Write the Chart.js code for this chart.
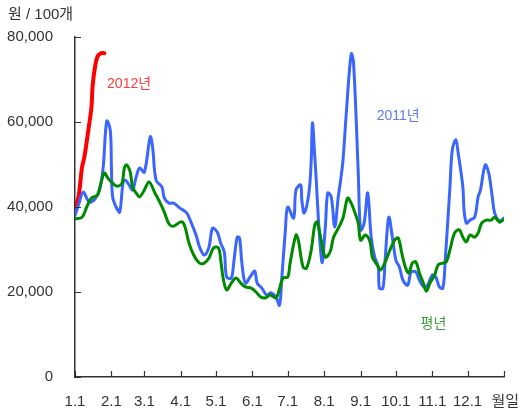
<!DOCTYPE html>
<html>
<head>
<meta charset="utf-8">
<script src="https://cdn.jsdelivr.net/npm/chart.js@4"></script>
<style>
  body { margin: 0; background: #fff; }
  #wrap { width: 520px; height: 415px; }
</style>
</head>
<body>
<div id="wrap"><canvas id="eggChart"></canvas></div>
<script>
// 일자(1월 1일 = 0) 와 가격 (원/100개)
const blueDays = [0, 3, 7, 12, 17, 21, 24, 27, 30, 31, 32, 35, 38, 41, 43, 46, 49, 52, 55, 59, 64, 66, 69, 74, 76, 80, 84, 89, 95, 99, 103, 106, 110, 114, 117, 121, 124, 127, 129, 133, 135, 138, 140, 142, 145, 150, 153, 155, 159, 163, 167, 171, 174, 176, 179, 181, 186, 188, 192, 193, 195, 199, 201, 202, 204, 210, 213, 215, 218, 221, 224, 226, 228, 231, 235, 237, 241, 243, 246, 249, 252, 255, 258, 259, 262, 264, 267, 270, 273, 276, 279, 283, 286, 290, 293, 297, 300, 304, 307, 310, 313, 315, 319, 321, 324, 326, 330, 331, 333, 336, 340, 343, 345, 349, 352, 355, 357, 361, 363, 365];
const blueVals = [38000, 40500, 43500, 41200, 41900, 44000, 49400, 60200, 58100, 49400, 42400, 40000, 38800, 45900, 46300, 45200, 44000, 47000, 49200, 48200, 56500, 54100, 46300, 44700, 42100, 40900, 40900, 39800, 38600, 36200, 33400, 30600, 28700, 30600, 35000, 34100, 31500, 29400, 23500, 23300, 26800, 32900, 32700, 26800, 22100, 24000, 24900, 22100, 20900, 19300, 19800, 18800, 16900, 23500, 34600, 40000, 37400, 44000, 45200, 41600, 38600, 43300, 51000, 59800, 52000, 27100, 35300, 43300, 42400, 35300, 42400, 46300, 51000, 62800, 76000, 73900, 48000, 34600, 36200, 43300, 32900, 28200, 25900, 20900, 20900, 28200, 37600, 32900, 27500, 25900, 22800, 21600, 24700, 24700, 22800, 21200, 21600, 24000, 23500, 21200, 20900, 27500, 44700, 53400, 55800, 52700, 44700, 39300, 36200, 36900, 37600, 42400, 44000, 49900, 48000, 42400, 38600, 36500, 36900, 37400];

const greenDays = [0, 6, 10, 14, 19, 22, 25, 28, 32, 36, 40, 42, 44, 47, 49, 52, 55, 59, 63, 68, 72, 76, 80, 84, 90, 93, 97, 101, 106, 110, 114, 118, 122, 124, 126, 129, 133, 137, 141, 145, 150, 154, 158, 162, 166, 171, 173, 177, 181, 183, 188, 190, 194, 197, 201, 204, 206, 210, 213, 217, 220, 224, 228, 232, 235, 238, 241, 243, 247, 251, 253, 257, 260, 264, 268, 272, 275, 278, 281, 284, 287, 290, 293, 296, 299, 302, 306, 309, 313, 316, 319, 323, 327, 330, 333, 336, 340, 343, 346, 350, 354, 357, 361, 364];
const greenVals = [37200, 37600, 40000, 42100, 42800, 45600, 48000, 46800, 45600, 44900, 45600, 49200, 49900, 48200, 44700, 43300, 42400, 44000, 45900, 43300, 41200, 38800, 36000, 35500, 36500, 35800, 31500, 28700, 26800, 26800, 28000, 30400, 30400, 27500, 23300, 20500, 22100, 23300, 22100, 21200, 20900, 20000, 18800, 18600, 19300, 18600, 19800, 23300, 23500, 26800, 33400, 32200, 25900, 25600, 29900, 35800, 36500, 31500, 28200, 29400, 32900, 35000, 37400, 42100, 40900, 38800, 36200, 32200, 33400, 31800, 28200, 26400, 25200, 27100, 29900, 32200, 32700, 29200, 25900, 24500, 26800, 27100, 24500, 22400, 20200, 22100, 24000, 26400, 26800, 27100, 29900, 33900, 34600, 32900, 31800, 33400, 32900, 33900, 36200, 36900, 36900, 37600, 36500, 36900];

const redDays = [0, 3, 6, 8, 11, 14, 15, 17, 19, 22, 25];
const redVals = [39800, 42400, 49400, 51800, 57400, 63500, 68500, 72900, 75300, 76200, 76200];

const monthStarts = [0, 31, 59, 90, 120, 151, 181, 212, 243, 273, 304, 334, 365];
const monthLabels = ['1.1', '2.1', '3.1', '4.1', '5.1', '6.1', '7.1', '8.1', '9.1', '10.1', '11.1', '12.1', ''];
const yTicks = [0, 20000, 40000, 60000, 80000];

const seriesNotes = [
    { text: '2012년', day: 46, value: 69000, color: '#ff3b3b' },
    { text: '2011년', day: 275, value: 61400, color: '#5c7cf0' },
    { text: '평년', day: 305, value: 12500, color: '#3a9d3a' }
];

const FONT = '"Liberation Sans", Arial, "Noto Sans CJK KR", sans-serif';

function pts(days, vals) {
    return days.map((d, i) => ({ x: d, y: vals[i] }));
}

const decorPlugin = {
    id: 'decor',
    afterDraw(chart) {
        const c = chart.ctx;
        const xs = chart.scales.x;
        const ys = chart.scales.y;
        const area = chart.chartArea;
        c.save();
        c.strokeStyle = '#333';
        c.lineWidth = 1.2;
        c.beginPath();
        monthStarts.forEach(d => {
            const px = Math.round(xs.getPixelForValue(d)) + 0.5;
            c.moveTo(px, area.bottom);
            c.lineTo(px, area.bottom - 6);
        });
        yTicks.forEach(v => {
            const py = Math.round(ys.getPixelForValue(v)) + 0.5;
            c.moveTo(area.left, py);
            c.lineTo(area.left + 6, py);
        });
        c.stroke();

        c.fillStyle = '#333';
        c.font = '15px ' + FONT;
        c.textBaseline = 'middle';
        c.textAlign = 'left';
        c.fillText('원 / 100개', 8, 15);
        c.textAlign = 'right';
        c.fillText('월일', 519, 402);

        c.font = '14px ' + FONT;
        c.textAlign = 'center';
        seriesNotes.forEach(n => {
            c.fillStyle = n.color;
            c.fillText(n.text, xs.getPixelForValue(n.day), ys.getPixelForValue(n.value));
        });
        c.restore();
    }
};

const ctx = document.getElementById('eggChart').getContext('2d');

new Chart(ctx, {
    type: 'line',
    data: {
        datasets: [
            { label: '평년', data: pts(greenDays, greenVals), borderColor: '#008a00', borderWidth: 3 },
            { label: '2011년', data: pts(blueDays, blueVals), borderColor: '#3a66ff', borderWidth: 3 },
            { label: '2012년', data: pts(redDays, redVals), borderColor: '#ff0000', borderWidth: 4 }
        ]
    },
    options: {
        responsive: true,
        maintainAspectRatio: false,
        animation: false,
        layout: { padding: { top: 37, right: 13, left: 0, bottom: 0 } },
        elements: {
            point: { radius: 0 },
            line: { tension: 0.35, borderCapStyle: 'round', borderJoinStyle: 'round' }
        },
        plugins: {
            legend: { display: false },
            tooltip: { enabled: false }
        },
        scales: {
            x: {
                type: 'linear',
                min: 0,
                max: 365,
                afterBuildTicks: scale => {
                    scale.ticks = monthStarts.map(v => ({ value: v }));
                },
                afterFit: scale => { scale.height = 38; },
                grid: { display: false, drawTicks: false },
                border: { color: '#333', width: 1.5 },
                ticks: {
                    autoSkip: false,
                    maxRotation: 0,
                    padding: 16,
                    color: '#333',
                    font: { size: 15, family: FONT },
                    callback: v => monthLabels[monthStarts.indexOf(v)]
                }
            },
            y: {
                min: 0,
                max: 80000,
                afterBuildTicks: scale => {
                    scale.ticks = yTicks.map(v => ({ value: v }));
                },
                afterFit: scale => { scale.width = 75; },
                grid: { display: false, drawTicks: false },
                border: { color: '#333', width: 1.5 },
                ticks: {
                    padding: 22,
                    color: '#333',
                    font: { size: 15, family: FONT },
                    callback: v => v.toLocaleString('en-US')
                }
            }
        }
    },
    plugins: [decorPlugin]
});
</script>
</body>
</html>
